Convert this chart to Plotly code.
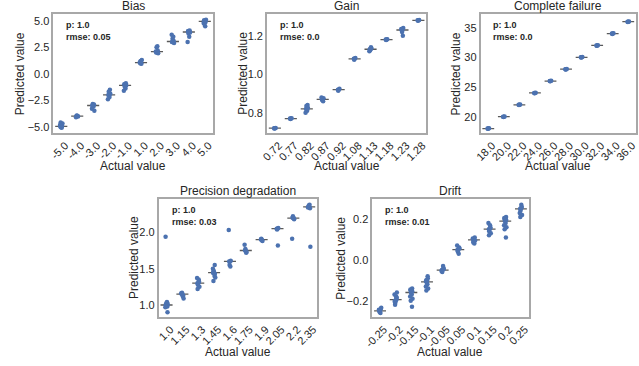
import plotly.graph_objects as go

W, H = 639, 366

# ---------------- data ----------------
bias_cats = ["-5.0", "-4.0", "-3.0", "-2.0", "-1.0", "1.0", "2.0", "3.0", "4.0", "5.0"]
bias_vals = [
    [-5.0, -5.0, -4.95, -5.05, -5.1, -4.85, -4.7, -4.6, -5.0, -4.9],
    [-4.0, -4.0, -4.05, -3.95, -4.0, -4.1],
    [-3.0, -3.0, -2.9, -2.85, -3.1, -3.3, -3.5, -3.0],
    [-2.0, -2.0, -1.5, -1.7, -2.2, -2.4, -1.9],
    [-1.0, -1.0, -0.9, -1.2, -1.4, -1.6, -1.1],
    [1.0, 1.0, 1.3, 1.2, 0.95, 1.1],
    [2.0, 2.0, 2.2, 2.5, 2.6, 2.1, 1.95],
    [3.0, 3.0, 3.1, 3.3, 3.5, 3.7, 2.9, 3.0],
    [4.0, 4.0, 4.1, 3.8, 3.5, 3.0, 3.9, 4.05],
    [5.0, 5.0, 4.9, 4.7, 4.5, 4.8, 5.1, 5.05],
]
bias_stats = "p: 1.0<br>rmse: 0.05"

gain_cats = ["0.72", "0.77", "0.82", "0.87", "0.92", "1.08", "1.13", "1.18", "1.23", "1.28"]
gain_vals = [
    [0.72, 0.72, 0.721, 0.719],
    [0.77, 0.77, 0.772, 0.768],
    [0.82, 0.82, 0.84, 0.835, 0.81, 0.80, 0.825],
    [0.87, 0.87, 0.875, 0.865, 0.86, 0.88],
    [0.92, 0.92, 0.925, 0.915],
    [1.08, 1.08, 1.085, 1.075],
    [1.13, 1.13, 1.135, 1.125, 1.14, 1.12],
    [1.18, 1.18, 1.182, 1.178],
    [1.23, 1.23, 1.24, 1.22, 1.20, 1.235],
    [1.28, 1.28, 1.282, 1.278],
]
gain_stats = "p: 1.0<br>rmse: 0.0"

fail_cats = ["18.0", "20.0", "22.0", "24.0", "26.0", "28.0", "30.0", "32.0", "34.0", "36.0"]
fail_vals = [
    [18.0, 18.0, 18.05, 17.95],
    [20.0, 20.0, 20.05, 19.95],
    [22.0, 22.0, 22.05, 21.95],
    [24.0, 24.0, 24.05, 23.95],
    [26.0, 26.0, 26.05, 25.95],
    [28.0, 28.0, 28.05, 27.95],
    [30.0, 30.0, 30.05, 29.95],
    [32.0, 32.0, 32.05, 31.95],
    [34.0, 34.0, 34.05, 33.95],
    [36.0, 36.0, 36.05, 35.95],
]
fail_stats = "p: 1.0<br>rmse: 0.0"

prec_cats = ["1.0", "1.15", "1.3", "1.45", "1.6", "1.75", "1.9", "2.05", "2.2", "2.35"]
prec_vals = [
    [1.0, 1.0, 0.98, 1.02, 1.04, 0.97, 1.01, 0.99, 1.03, 1.94, 0.90],
    [1.15, 1.15, 1.13, 1.17, 1.12, 1.16, 1.09],
    [1.30, 1.30, 1.32, 1.28, 1.35, 1.37, 1.25, 1.22, 1.33],
    [1.45, 1.45, 1.43, 1.47, 1.40, 1.50, 1.38, 1.33, 1.55, 1.44],
    [1.60, 1.60, 1.61, 1.55, 1.53, 2.03],
    [1.75, 1.75, 1.73, 1.77, 1.72, 1.83],
    [1.90, 1.90, 1.88, 1.91, 1.89],
    [2.05, 2.05, 2.06, 2.04, 1.82],
    [2.20, 2.20, 2.18, 2.22, 2.19, 1.91],
    [2.35, 2.35, 2.33, 2.37, 2.38, 2.34, 1.80],
]
prec_stats = "p: 1.0<br>rmse: 0.03"

drift_cats = ["-0.25", "-0.2", "-0.15", "-0.1", "-0.05", "0.05", "0.1", "0.15", "0.2", "0.25"]
drift_vals = [
    [-0.25, -0.25, -0.24, -0.255, -0.26, -0.245, -0.235],
    [-0.20, -0.20, -0.19, -0.21, -0.18, -0.17, -0.16, -0.22, -0.195, -0.205, -0.185],
    [-0.15, -0.15, -0.14, -0.16, -0.17, -0.18, -0.19, -0.20, -0.23, -0.145, -0.155],
    [-0.10, -0.10, -0.09, -0.11, -0.12, -0.13, -0.14, -0.15, -0.08, -0.105],
    [-0.05, -0.05, -0.04, -0.06, -0.03, -0.055, -0.045],
    [0.05, 0.05, 0.06, 0.04, 0.03, 0.07, 0.055, 0.045],
    [0.10, 0.10, 0.11, 0.09, 0.08, 0.105, 0.095, 0.085],
    [0.15, 0.15, 0.16, 0.14, 0.17, 0.18, 0.13, 0.12, 0.155],
    [0.20, 0.20, 0.21, 0.19, 0.18, 0.17, 0.16, 0.15, 0.11, 0.205, 0.195],
    [0.25, 0.25, 0.26, 0.24, 0.27, 0.23, 0.22, 0.21, 0.255],
]
drift_stats = "p: 1.0<br>rmse: 0.01"

# ---------------- layout ----------------
def py_dom(top, bottom):
    return [1 - bottom / H, 1 - top / H]

panels = [
    dict(title="Bias", cats=bias_cats, vals=bias_vals, stats=bias_stats,
         xd=(45, 207), yd=(14, 133), yr=[-5.6, 5.65], tv=[-5.0, -2.5, 0.0, 2.5, 5.0], fmt=".1f",
         ytx=12, xty=166),
    dict(title="Gain", cats=gain_cats, vals=gain_vals, stats=gain_stats,
         xd=(262, 424), yd=(14, 133), yr=[0.695, 1.313], tv=[0.8, 1.0, 1.2], fmt=".1f",
         ytx=238, xty=166),
    dict(title="Complete failure", cats=fail_cats, vals=fail_vals, stats=fail_stats,
         xd=(479, 637), yd=(14, 133), yr=[17.25, 37.3], tv=[20, 25, 30, 35], fmt="d",
         ytx=455, xty=166),
    dict(title="Precision degradation", cats=prec_cats, vals=prec_vals, stats=prec_stats,
         xd=(152, 313), yd=(199, 317), yr=[0.835, 2.458], tv=[1.0, 1.5, 2.0], fmt=".1f",
         ytx=127, xty=352),
    dict(title="Drift", cats=drift_cats, vals=drift_vals, stats=drift_stats,
         xd=(369, 528), yd=(199, 317), yr=[-0.28, 0.298], tv=[-0.2, 0.0, 0.2], fmt=".1f",
         ytx=337, xty=352),
]

FONT = "Liberation Sans, Arial, sans-serif"
TXT = "#262626"
BLUE = "#4C72B0"
jit = [0.0, -0.05, 0.05, -0.025, 0.025, -0.075, 0.075, -0.04, 0.04, -0.06, 0.06]

fig = go.Figure()
layout = dict(width=W, height=H, margin=dict(l=0, r=0, t=0, b=0),
              paper_bgcolor="white", plot_bgcolor="white", showlegend=False,
              font=dict(family=FONT, color=TXT))
annotations = []

for k, p in enumerate(panels):
    sfx = "" if k == 0 else str(k + 1)
    xa, ya = "x" + sfx, "y" + sfx
    # median lines
    lx, ly = [], []
    for i, v in enumerate(p["vals"]):
        s = sorted(v)
        n = len(s)
        med = s[n // 2] if n % 2 else (s[n // 2 - 1] + s[n // 2]) / 2
        lx += [i - 0.38, i + 0.38, None]
        ly += [med, med, None]
    fig.add_trace(go.Scatter(x=lx, y=ly, mode="lines", xaxis=xa, yaxis=ya,
                             line=dict(color="#5a5a5a", width=1.3), hoverinfo="skip"))
    # points
    px, py = [], []
    for i, v in enumerate(p["vals"]):
        for j, val in enumerate(v):
            px.append(i + jit[j % len(jit)])
            py.append(val)
    fig.add_trace(go.Scatter(x=px, y=py, mode="markers", xaxis=xa, yaxis=ya,
                             marker=dict(color=BLUE, size=4.5, line=dict(width=0))))
    layout["xaxis" + sfx] = dict(
        domain=[p["xd"][0] / W, p["xd"][1] / W], anchor=ya,
        range=[-0.5, len(p["cats"]) - 0.5],
        tickmode="array", tickvals=list(range(len(p["cats"]))), ticktext=p["cats"],
        tickangle=-45, tickfont=dict(size=11, color=TXT),
        ticklabelshift=4, ticklabelstandoff=0,
        showgrid=False, zeroline=False, showline=True, mirror=True,
        linecolor="#a8a8a8", linewidth=1.5, ticks="",
    )
    layout["yaxis" + sfx] = dict(
        domain=py_dom(*p["yd"]), anchor=xa, range=p["yr"],
        tickmode="array", tickvals=p["tv"],
        ticktext=[format(t, p["fmt"]).replace("-", "\u2212") for t in p["tv"]],
        tickfont=dict(size=11, color=TXT),
        showgrid=False, zeroline=False, showline=True, mirror=True,
        linecolor="#a8a8a8", linewidth=1.5, ticks="",
    )
    xc = (p["xd"][0] + p["xd"][1]) / 2 / W
    # title
    annotations.append(dict(text=p["title"], x=xc, y=1 - p["yd"][0] / H, xref="paper", yref="paper",
                            xanchor="center", yanchor="bottom", showarrow=False, yshift=-1,
                            font=dict(size=12, color=TXT)))
    # axis titles
    annotations.append(dict(text="Actual value", x=xc, y=1 - p["xty"] / H, xref="paper", yref="paper",
                            xanchor="center", yanchor="middle", showarrow=False,
                            font=dict(size=12, color=TXT)))
    yc = 1 - (p["yd"][0] + p["yd"][1]) / 2 / H
    annotations.append(dict(text="Predicted value", x=p["ytx"] / W, y=yc, xref="paper", yref="paper",
                            xanchor="center", yanchor="middle", showarrow=False, textangle=-90,
                            font=dict(size=12, color=TXT)))
    # stats
    annotations.append(dict(text="<b>" + p["stats"] + "</b>", x=0.07, y=0.97,
                            xref=xa + " domain", yref=ya + " domain",
                            xanchor="left", yanchor="top", showarrow=False, align="left",
                            font=dict(size=9, color=TXT)))

layout["annotations"] = annotations
fig.update_layout(**layout)
fig.write_html("out.html", config={"displayModeBar": False},
               post_script="document.body.style.margin='0';document.body.style.overflow='hidden';")
